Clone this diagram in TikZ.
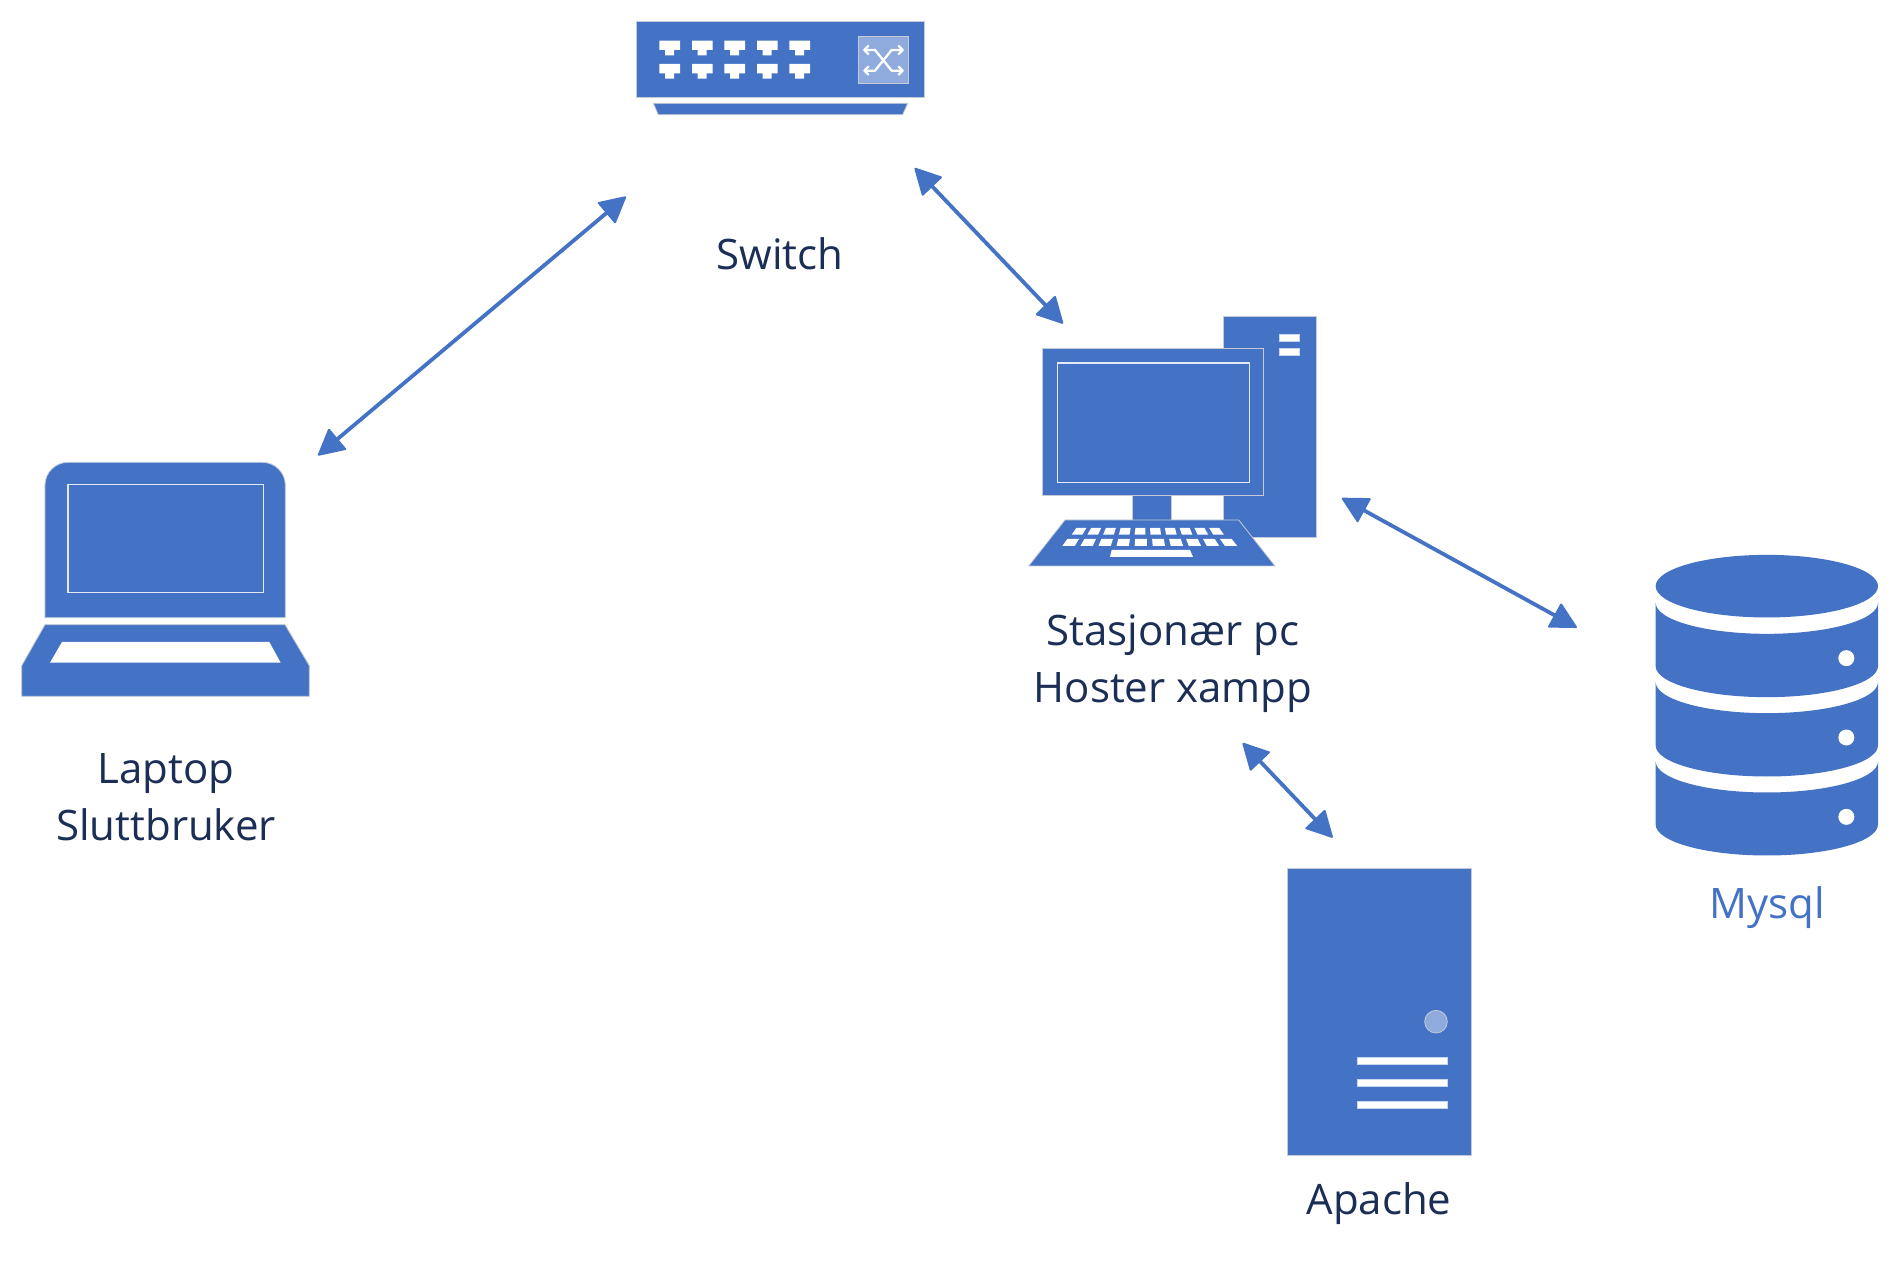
\documentclass[tikz,border=0pt]{standalone}
\usepackage{fontspec}
\setmainfont{Open Sans}
\usetikzlibrary{arrows.meta}
\definecolor{iconblue}{HTML}{4472C4}
\definecolor{iconlight}{HTML}{8FAADC}
\definecolor{labelnavy}{HTML}{1B2E56}
\definecolor{edgegrey}{HTML}{C4CAD6}
\tikzset{
  icon/.style={fill=iconblue,draw=edgegrey,line width=0.8pt,line join=miter},
  iconplain/.style={fill=iconblue},
  hole/.style={fill=white,draw=white!70!iconblue,line width=0.5pt},
  screenline/.style={draw=white!85!iconblue,line width=1.1pt},
  lighticon/.style={fill=iconlight,draw=edgegrey,line width=0.8pt},
  xline/.style={draw=white,line width=2.3pt,line cap=round,line join=round},
  label/.style={font=\fontsize{42}{57}\selectfont,text=labelnavy,align=center,anchor=base,inner sep=0pt},
  link/.style={draw=iconblue,line width=3.8pt,{Triangle[length=27pt,width=28pt,round,line width=2pt]}-{Triangle[length=27pt,width=28pt,round,line width=2pt]},line join=round,shorten >=1pt,shorten <=1pt},
  zoomed/.style={x=0.33333pt,y=-0.33333pt}
}
\begin{document}
\begin{tikzpicture}[x=1pt,y=-1pt]
\useasboundingbox (0,0) rectangle (1899,1273);
\fill[white] (0,0) rectangle (1899,1273);

% Switch
\begin{scope}[shift={(620,0)},zoomed]
  \draw[icon] (50,65) rectangle (913,292);
  \draw[icon] (100,310) -- (863,310) -- (848,344) -- (115,344) -- cycle;
  \foreach \px in {118,216,313,411,508}
    \foreach \py in {122,192}
      \fill[white,shift={(\px,\py)}] (0,0) -- (62,0) -- (62,28) -- (44,28) -- (44,44) -- (17,44) -- (17,28) -- (0,28) -- cycle;
  \draw[lighticon] (715,108) rectangle (865,250);
  \draw[xline] (733,150) -- (765,150) -- (815,212) -- (848,212);
  \draw[xline] (733,212) -- (765,212) -- (815,150) -- (848,150);
  \draw[xline] (745,138) -- (733,150) -- (745,162);
  \draw[xline] (745,200) -- (733,212) -- (745,224);
  \draw[xline] (836,138) -- (848,150) -- (836,162);
  \draw[xline] (836,200) -- (848,212) -- (836,224);
\end{scope}

% Desktop PC
\begin{scope}[shift={(1010,300)},zoomed]
  \draw[icon] (641,50) rectangle (919,712);
  \draw[hole] (808,102) rectangle (868,123);
  \draw[hole] (808,144) rectangle (868,165);
  \draw[icon] (368,587) rectangle (484,660);
  \draw[icon] (98,146) rectangle (760,587);
  \draw[screenline] (142,189) rectangle (719,547);
  \draw[icon] (165,660) -- (686,660) -- (795,798) -- (56,798) -- cycle;
  \foreach \i in {0,...,9}
    \fill[white] ({199+44.3*\i},684) -- ({229+44.3*\i},684) -- ({217+47.2*\i},704) -- ({185+47.2*\i},704) -- cycle;
  \foreach \i in {0,...,9}
    \fill[white] ({172+50.9*\i},717) -- ({207+50.9*\i},717) -- ({194+54.2*\i},738) -- ({157+54.2*\i},738) -- cycle;
  \fill[white] (305,750) -- (540,750) -- (549,771) -- (300,771) -- cycle;
\end{scope}

% Laptop
\begin{scope}[shift={(0,439)},zoomed]
  \draw[icon] (135,536) [rounded corners=23pt] -- (135,70) -- (856,70) [sharp corners] -- (856,536) -- cycle;
  \draw[screenline] (204,136) rectangle (790,461);
  \draw[icon] (135,557) -- (855,557) -- (928,680) -- (928,772) -- (65,772) -- (65,680) -- cycle;
  \fill[white] (186,609) -- (808,609) -- (842,671) -- (150,671) -- cycle;
\end{scope}

% Database
\begin{scope}[shift={(1630,539.5)},zoomed]
  \fill[iconplain] (410.5,140) ellipse [x radius=111.17pt,y radius=31.3pt];
  \foreach \top/\bot in {190/380,428/618,666/855}
    \fill[iconplain] (77,\top) arc[start angle=180,end angle=360,x radius=111.17pt,y radius=31pt]
      -- (744,\bot) arc[start angle=0,end angle=-180,x radius=111.17pt,y radius=31pt] -- cycle;
  \foreach \dy in {356,594,832}
    \fill[white] (649,\dy) circle[radius=8pt];
\end{scope}

% Apache server
\begin{scope}[shift={(1270,859)},zoomed]
  \draw[icon] (53,27) rectangle (604,888);
  \draw[lighticon] (498,488) circle[radius=11.3pt];
  \draw[hole] (263,596) rectangle (531,617);
  \draw[hole] (263,662) rectangle (531,683);
  \draw[hole] (263,727) rectangle (531,748);
\end{scope}

% Labels
\node[label] (switchlabel) at (780,270) {Switch};
\node[label] (laptoplabel) at (166,840) {Laptop\\Sluttbruker};
\node[label] (pclabel) at (1173,702.3) {Stasjonær pc\\Hoster xampp};
\node[label,text=iconblue] (mysqllabel) at (1767,918.5) {Mysql};
\node[label] (apachelabel) at (1379,1214.5) {Apache};

% Connector ends
\coordinate (laptopend) at (317.3,456);
\coordinate (switchwest) at (626.7,196);
\coordinate (switcheast) at (914,167.3);
\coordinate (pcnorth) at (1063.7,324.3);
\coordinate (pceast) at (1341,497.7);
\coordinate (mysqlend) at (1577.7,628);
\coordinate (pcsouth) at (1242,742.3);
\coordinate (apacheend) at (1333.3,838.3);

\draw[link] (laptopend) -- (switchwest);
\draw[link] (switcheast) -- (pcnorth);
\draw[link] (pceast) -- (mysqlend);
\draw[link] (pcsouth) -- (apacheend);
\end{tikzpicture}
\end{document}
